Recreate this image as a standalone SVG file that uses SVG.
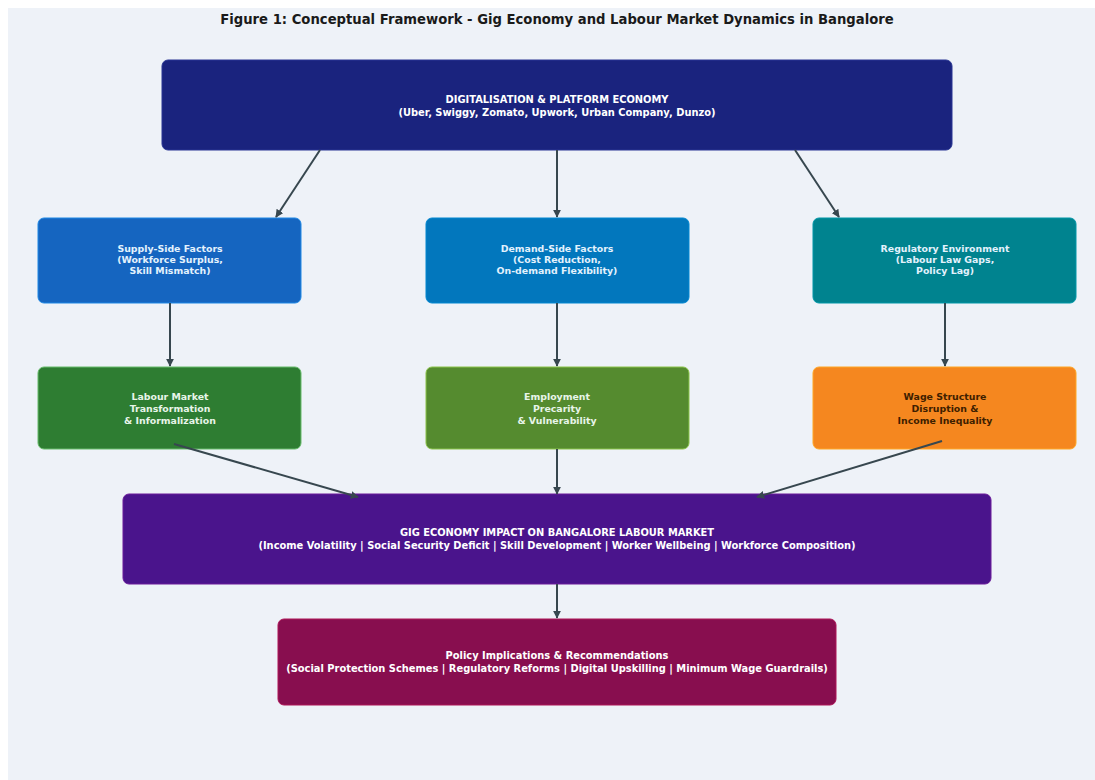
<svg xmlns="http://www.w3.org/2000/svg" width="1095" height="780" viewBox="0 0 1095 780">
<defs>
<style>
text{font-family:"DejaVu Sans","Liberation Sans",sans-serif;font-weight:bold;text-anchor:middle}
.t{font-size:13.2px;fill:#1a1a1a}
.s{font-size:9.4px}
.b{font-size:9.9px}
.w{fill:#ffffff}
.lb{fill:#e3f2fd}
.lg{fill:#e8f5e9}
.dk{fill:#3e2000}
.conn line{stroke:#37474f;stroke-width:2;fill:none;marker-end:url(#ah)}
</style>
<marker id="ah" viewBox="0 0 10 10" refX="9" refY="5" markerWidth="4" markerHeight="4" orient="auto" markerUnits="strokeWidth">
<path d="M0,0 L10,5 L0,10 z" fill="#37474f"/>
</marker>
</defs>
<rect x="0" y="0" width="1095" height="780" fill="#ffffff"/>
<rect x="8" y="8" width="1087" height="772" fill="#eef2f8"/>
<text class="t" x="557" y="24">Figure 1: Conceptual Framework - Gig Economy and Labour Market Dynamics in Bangalore</text>

<g id="platform">
<rect x="162" y="60" width="790" height="90" rx="6" fill="#1a237e" stroke="#283593" stroke-width="1"/>
<text class="b w" x="557" y="103">DIGITALISATION &amp; PLATFORM ECONOMY</text>
<text class="b w" x="557" y="116">(Uber, Swiggy, Zomato, Upwork, Urban Company, Dunzo)</text>
</g>

<g id="supply">
<rect x="38" y="218" width="263" height="85" rx="6" fill="#1565c0" stroke="#1e88e5" stroke-width="1"/>
<text class="s lb" x="170" y="252">Supply-Side Factors</text>
<text class="s lb" x="170" y="263">(Workforce Surplus,</text>
<text class="s lb" x="170" y="274">Skill Mismatch)</text>
</g>

<g id="demand">
<rect x="426" y="218" width="263" height="85" rx="6" fill="#0277bd" stroke="#0288d1" stroke-width="1"/>
<text class="s lb" x="557" y="252">Demand-Side Factors</text>
<text class="s lb" x="557" y="263">(Cost Reduction,</text>
<text class="s lb" x="557" y="274">On-demand Flexibility)</text>
</g>

<g id="regulatory">
<rect x="813" y="218" width="263" height="85" rx="6" fill="#00838f" stroke="#0097a7" stroke-width="1"/>
<text class="s lb" x="945" y="252">Regulatory Environment</text>
<text class="s lb" x="945" y="263">(Labour Law Gaps,</text>
<text class="s lb" x="945" y="274">Policy Lag)</text>
</g>

<g id="labour">
<rect x="38" y="367" width="263" height="82" rx="6" fill="#2e7d32" stroke="#66bb6a" stroke-width="1"/>
<text class="s lg" x="170" y="400">Labour Market</text>
<text class="s lg" x="170" y="412">Transformation</text>
<text class="s lg" x="170" y="424">&amp; Informalization</text>
</g>

<g id="precarity">
<rect x="426" y="367" width="263" height="82" rx="6" fill="#558b2f" stroke="#8bc34a" stroke-width="1"/>
<text class="s lg" x="557" y="400">Employment</text>
<text class="s lg" x="557" y="412">Precarity</text>
<text class="s lg" x="557" y="424">&amp; Vulnerability</text>
</g>

<g id="wage">
<rect x="813" y="367" width="263" height="82" rx="6" fill="#f5871f" stroke="#ffa726" stroke-width="1"/>
<text class="s dk" x="945" y="400">Wage Structure</text>
<text class="s dk" x="945" y="412">Disruption &amp;</text>
<text class="s dk" x="945" y="424">Income Inequality</text>
</g>

<g id="impact">
<rect x="123" y="494" width="868" height="90" rx="6" fill="#4a148c" stroke="#6a1b9a" stroke-width="1"/>
<text class="b w" x="557" y="536">GIG ECONOMY IMPACT ON BANGALORE LABOUR MARKET</text>
<text class="b w" x="557" y="549">(Income Volatility | Social Security Deficit | Skill Development | Worker Wellbeing | Workforce Composition)</text>
</g>

<g id="policy">
<rect x="278" y="619" width="558" height="86" rx="6" fill="#880e4f" stroke="#ad1457" stroke-width="1"/>
<text class="b w" x="557" y="659">Policy Implications &amp; Recommendations</text>
<text class="b w" x="557" y="672">(Social Protection Schemes | Regulatory Reforms | Digital Upskilling | Minimum Wage Guardrails)</text>
</g>

<g class="conn" id="connectors">
<line x1="320" y1="150" x2="276" y2="217"/>
<line x1="557" y1="150" x2="557" y2="217"/>
<line x1="795" y1="150" x2="839" y2="217"/>
<line x1="170" y1="303" x2="170" y2="366"/>
<line x1="557" y1="303" x2="557" y2="366"/>
<line x1="945" y1="303" x2="945" y2="366"/>
<line x1="174" y1="444" x2="358" y2="497"/>
<line x1="557" y1="449" x2="557" y2="494"/>
<line x1="942" y1="441" x2="757" y2="497"/>
<line x1="557" y1="584" x2="557" y2="618"/>
</g>
</svg>
